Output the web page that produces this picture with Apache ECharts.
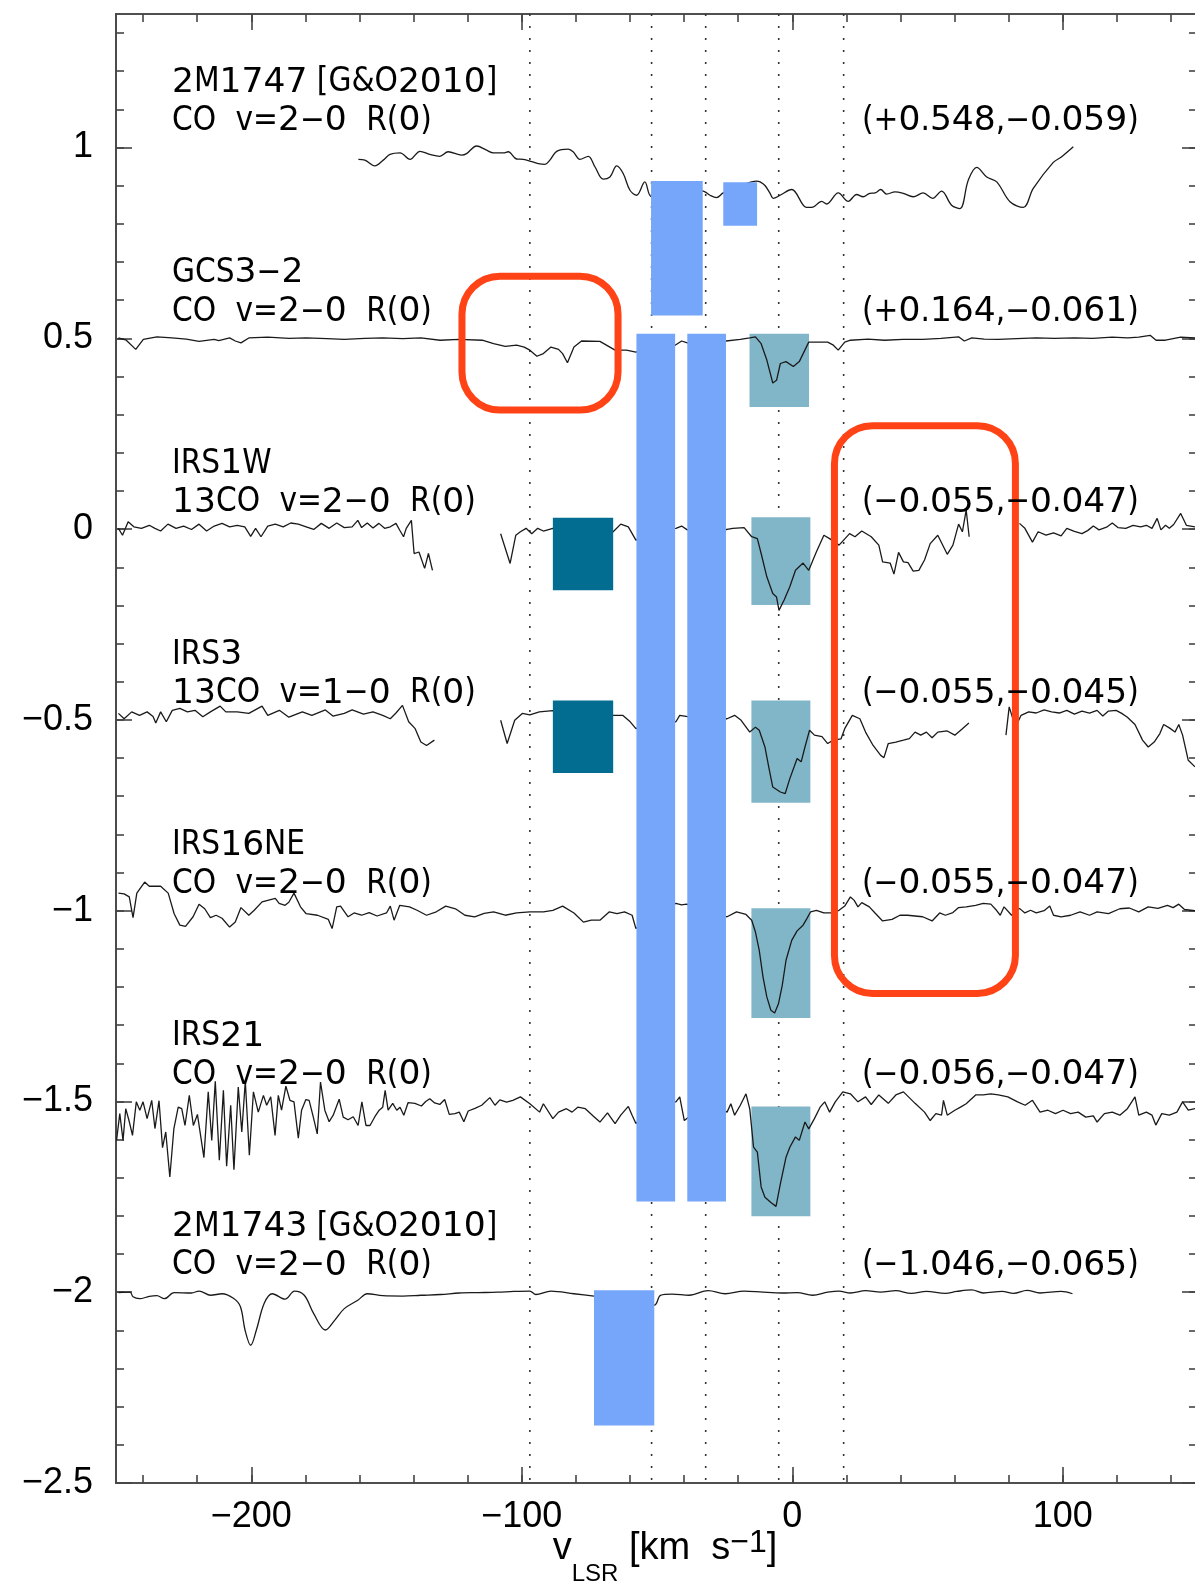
<!DOCTYPE html>
<html><head><meta charset="utf-8">
<script src="https://cdn.jsdelivr.net/npm/echarts@6/dist/echarts.min.js"></script>
<style>html,body{margin:0;padding:0;background:#fff}#c{width:1195px;height:1582px}</style>
</head><body><div id="c"></div>
<script>
// ---------------- DATA ----------------
const xMajorTicks = [-200, -100, 0, 100];
const yMajorTicks = [-2.5, -2, -1.5, -1, -0.5, 0, 0.5, 1];
const xRange = [-250, 150];
const yRange = [-2.5, 1.35];

const offsets = [1, 0.5, 0, -0.5, -1, -1.5, -2];
const sourceNames = ['2M1747 [G&O2010]', 'GCS3\u22122', 'IRS1W', 'IRS3', 'IRS16NE', 'IRS21', '2M1743 [G&O2010]'];
const lineNames = ['CO v=2\u22120 R(0)', 'CO v=2\u22120 R(0)', '13CO v=2\u22120 R(0)', '13CO v=1\u22120 R(0)', 'CO v=2\u22120 R(0)', 'CO v=2\u22120 R(0)', 'CO v=2\u22120 R(0)'];
const positions = ['(+0.548,\u22120.059)', '(+0.164,\u22120.061)', '(\u22120.055,\u22120.047)', '(\u22120.055,\u22120.045)', '(\u22120.055,\u22120.047)', '(\u22120.056,\u22120.047)', '(\u22121.046,\u22120.065)'];

// dotted velocity markers (km/s)
const velMarkers = [-97, -52, -32, -5, 19];

// shaded velocity ranges: [vmin, vmax, ytop, ybottom]
const blueRanges = [[-52.2,-33.1,0.912,0.560],[-25.5,-13.0,0.909,0.795],[-57.6,-43.3,0.512,-1.762],[-38.8,-24.5,0.512,-1.762],[-73.3,-51,-1.995,-2.349]];
const tealRanges = [[-15.8,6.2,0.512,0.320],[-15.1,6.7,0.031,-0.199],[-15.1,6.7,-0.449,-0.717],[-15.1,6.7,-0.994,-1.281],[-15.1,6.7,-1.513,-1.801]];
const darkRanges = [[-88.5,-66.2,0.030,-0.160],[-88.5,-66.2,-0.449,-0.639]];
const highlightBoxes = [[-122.1,-64.4,0.663,0.312],[15.6,82.5,0.271,-1.217]];

const spec2M1747 = [[-160.4,0.969],[-158,0.967],[-154.3,0.952],[-151.2,0.967],[-148.7,0.982],[-145,0.986],[-141.3,0.969],[-137.6,0.990],[-134,0.982],[-130.3,0.977],[-127.2,0.989],[-122.2,0.980],[-120.4,0.984],[-116.7,1.004],[-113,0.993],[-110.5,0.986],[-106.8,0.986],[-105,0.989],[-101.9,0.970],[-99.4,0.969],[-96.3,0.963],[-93.9,0.958],[-91.4,0.956],[-89.6,0.967],[-87.1,0.990],[-82.8,0.996],[-81,0.989],[-78.5,0.969],[-75.4,0.977],[-72.9,0.949],[-69.9,0.917],[-67.4,0.923],[-64.9,0.952],[-62.5,0.932],[-60,0.888],[-57.5,0.875],[-54.5,0.910],[-52,0.871],[-45,0.88],[-38,0.89],[-32.9,0.886],[-30.4,0.875],[-28,0.869],[-25.5,0.881],[-19,0.90],[-13.2,0.912],[-11.9,0.910],[-10,0.900],[-8.2,0.880],[-7,0.867],[-4.5,0.875],[-0.2,0.890],[5.3,0.843],[7.2,0.843],[10.9,0.859],[12.7,0.852],[17,0.881],[20.7,0.859],[23.8,0.877],[26.2,0.871],[28.7,0.880],[30.6,0.881],[32.7,0.890],[34.9,0.878],[38,0.884],[41,0.880],[44.7,0.871],[48.4,0.881],[51.9,0.867],[55.2,0.886],[58.9,0.849],[62,0.840],[65.1,0.915],[68.2,0.948],[71.9,0.923],[75.6,0.910],[80.5,0.858],[85.4,0.843],[89.1,0.893],[96.5,0.961],[99.6,0.976],[103.9,1.002]];

const specGCS3 = [[-249.1,0.501],[-246.2,0.495],[-242.7,0.471],[-239.9,0.497],[-234.9,0.504],[-229.3,0.501],[-224,0.498],[-219.3,0.492],[-213.7,0.497],[-212,0.494],[-208,0.501],[-205.9,0.493],[-203.8,0.488],[-200.9,0.501],[-193.9,0.503],[-186,0.500],[-179.7,0.501],[-172,0.499],[-165.6,0.497],[-158,0.500],[-151.4,0.501],[-144,0.499],[-137.3,0.501],[-130.2,0.495],[-123.2,0.497],[-114.6,0.495],[-110.4,0.486],[-106.1,0.479],[-101.9,0.482],[-99.1,0.477],[-97,0.469],[-94.4,0.453],[-92,0.460],[-89.2,0.477],[-86.4,0.471],[-84.9,0.460],[-83.1,0.436],[-80.7,0.477],[-77.9,0.493],[-71.1,0.492],[-65.5,0.469],[-61.3,0.469],[-57.8,0.464],[-50,0.48],[-43.3,0.482],[-40.9,0.493],[-38.8,0.488],[-31,0.49],[-24.5,0.493],[-19.2,0.497],[-15.7,0.501],[-13.6,0.504],[-11.5,0.486],[-9.4,0.443],[-7.2,0.383],[-5.8,0.390],[-4.4,0.434],[-2.3,0.439],[0.4,0.426],[2.6,0.439],[6.1,0.490],[10.3,0.490],[13.1,0.490],[15.2,0.482],[17,0.469],[19.4,0.490],[21.5,0.495],[28,0.498],[34.1,0.495],[41,0.497],[48.2,0.497],[55,0.500],[61.5,0.504],[63.6,0.493],[66.4,0.501],[71,0.498],[76.2,0.497],[83,0.499],[90.2,0.501],[97,0.500],[104.3,0.501],[111,0.500],[118.3,0.503],[124,0.501],[128.1,0.503],[132.3,0.508],[134.5,0.495],[138,0.495],[143.6,0.503],[148.9,0.501]];

const specIRS1W = [[-249.1,0.002],[-247.6,-0.016],[-245.5,0.019],[-243.4,0.006],[-240.6,0.002],[-237.7,0.010],[-235.6,0.002],[-233.5,-0.005],[-230.8,0.013],[-227.8,0.002],[-225,0.008],[-222.1,-0.001],[-219.3,0.013],[-216.5,-0.005],[-213.7,0.008],[-210.8,0.015],[-208,0.006],[-205.2,0.010],[-202.4,0.006],[-200.2,-0.019],[-198.4,0.002],[-196.4,-0.020],[-193.9,0.008],[-191.1,0.013],[-188.2,0.006],[-185.4,0.016],[-182.6,0.013],[-179.7,0.006],[-176.9,-0.001],[-174.1,0.015],[-171.2,0.002],[-168.4,0.016],[-165.6,0.004],[-162.7,0.006],[-160.6,0.023],[-159.2,0.004],[-157.1,0.016],[-155,0.003],[-152.8,0.015],[-150.7,0.002],[-148.6,0.006],[-146.5,0.015],[-145.1,-0.003],[-143.7,-0.020],[-142.7,0.002],[-140.8,0.023],[-139.8,-0.064],[-138,-0.060],[-137.3,-0.064],[-135.9,-0.103],[-134.5,-0.064],[-133,-0.108],[-120,null],[-107.8,-0.012],[-104.3,-0.090],[-102.2,-0.016],[-100.5,-0.007],[-98.4,0.002],[-96.3,-0.012],[-94.1,0.002],[-92,-0.005],[-88.5,0.002],[-77,0.0],[-66.2,-0.007],[-63.4,0.013],[-60.6,0.006],[-57.8,-0.029],[-50,0.0],[-43,0.002],[-40.9,0.008],[-38.8,-0.002],[-31,0.0],[-24.1,-0.001],[-22,0.002],[-17.8,0.004],[-15,-0.020],[-12.9,-0.025],[-11.5,-0.064],[-9.4,-0.125],[-7.2,-0.169],[-5.8,-0.178],[-4.9,-0.213],[-3,-0.186],[-0.9,-0.151],[1.2,-0.108],[4,-0.089],[6.1,-0.108],[8.9,-0.060],[11.7,-0.016],[13.8,-0.025],[17.3,-0.042],[21.2,-0.012],[23.2,-0.020],[25.7,-0.005],[29.2,-0.020],[32,-0.042],[33.4,-0.086],[36.2,-0.089],[37.6,-0.118],[39.3,-0.061],[41.1,-0.086],[42.8,-0.088],[44.7,-0.110],[46.8,-0.108],[48.9,-0.081],[51,-0.038],[53.8,-0.016],[57.3,-0.066],[59.4,-0.042],[61.5,0.013],[62.9,-0.007],[64.3,0.050],[65.4,-0.020],[75,null],[84,0.015],[86,0.002],[88.8,-0.034],[90.9,-0.007],[93.8,-0.016],[96.6,-0.010],[99.4,-0.018],[101.5,0.002],[104.3,-0.006],[107.1,-0.012],[109.2,-0.004],[111.3,0.008],[113.4,-0.002],[116.2,0.005],[118.3,0.016],[120.4,0.004],[123.3,0.002],[126,0.010],[128.8,0.006],[130.9,0.010],[133,0.002],[134.9,0.028],[136.3,-0.002],[138,0.010],[139.4,0.002],[141,0.012],[143.6,0.041],[145.7,0.010],[148.9,0.006]];

const specIRS3 = [[-249.1,-0.483],[-247,-0.497],[-244.2,-0.479],[-241.3,-0.488],[-238.5,-0.479],[-236.3,-0.491],[-235.3,-0.508],[-233.5,-0.479],[-231.4,-0.505],[-229.2,-0.475],[-226.4,-0.470],[-223.6,-0.479],[-220.8,-0.475],[-217.9,-0.492],[-215.1,-0.479],[-211.5,-0.464],[-209.4,-0.479],[-205.2,-0.479],[-200.9,-0.483],[-196,-0.464],[-193.9,-0.488],[-189.6,-0.475],[-186.1,-0.493],[-181.1,-0.479],[-177.6,-0.488],[-172.6,-0.474],[-169.8,-0.490],[-165.6,-0.483],[-162.7,-0.474],[-158.5,-0.485],[-155,-0.479],[-151.4,-0.488],[-148.6,-0.497],[-146.5,-0.482],[-144.1,-0.462],[-141.8,-0.505],[-139.4,-0.523],[-137.3,-0.558],[-135.2,-0.567],[-132.3,-0.553],[-120,null],[-107.8,-0.501],[-105.4,-0.562],[-102.6,-0.501],[-99.8,-0.483],[-97,-0.487],[-93.5,-0.479],[-88.5,-0.476],[-77,-0.49],[-66.2,-0.488],[-62.7,-0.488],[-59.9,-0.505],[-57.8,-0.523],[-50,-0.5],[-43,-0.505],[-41.6,-0.488],[-31,-0.5],[-24.1,-0.497],[-21.3,-0.488],[-18.9,-0.501],[-15.7,-0.532],[-13.6,-0.519],[-12.2,-0.527],[-10.1,-0.571],[-8.7,-0.623],[-7.2,-0.676],[-4.4,-0.689],[-2.6,-0.693],[-0.9,-0.654],[0.7,-0.623],[1.8,-0.601],[3.3,-0.610],[4.7,-0.571],[6.4,-0.527],[8.2,-0.540],[11,-0.544],[13.1,-0.562],[15.2,-0.553],[18,-0.550],[19.4,-0.523],[22.2,-0.488],[25,-0.497],[27.1,-0.532],[29.9,-0.567],[32.7,-0.593],[33.9,-0.599],[35.5,-0.562],[38.3,-0.558],[41.1,-0.553],[43.3,-0.549],[45.4,-0.532],[47.5,-0.540],[49.6,-0.532],[51.7,-0.547],[53.8,-0.532],[57.3,-0.529],[60.1,-0.540],[62.9,-0.523],[65.3,-0.508],[72,null],[79,-0.540],[80.2,-0.466],[82.5,-0.519],[84.6,-0.488],[87.4,-0.479],[90.2,-0.482],[93.1,-0.474],[95.9,-0.479],[98.7,-0.482],[101.5,-0.475],[104.3,-0.485],[107.1,-0.477],[109.9,-0.482],[112.7,-0.475],[114.8,-0.490],[116.9,-0.477],[119.7,-0.475],[121.8,-0.483],[123.9,-0.493],[126.7,-0.512],[129.5,-0.553],[131.6,-0.571],[133.8,-0.558],[135.9,-0.536],[137.3,-0.512],[139.4,-0.521],[141.5,-0.532],[142.9,-0.512],[144.3,-0.540],[146.4,-0.606],[148.9,-0.623]];

const specIRS16NE = [[-249.1,-0.954],[-247,-0.956],[-245.1,-0.964],[-243.7,-1.018],[-242.3,-0.954],[-239.4,-0.925],[-237.7,-0.936],[-233.5,-0.936],[-230.7,-0.954],[-228.5,-1.008],[-226.4,-1.038],[-224.3,-1.041],[-221.5,-1.016],[-219.3,-0.983],[-217.2,-0.995],[-215.1,-1.018],[-213,-1.012],[-210.8,-1.020],[-208,-1.043],[-205.9,-1.030],[-203.8,-0.992],[-200.9,-1.012],[-198.9,-0.999],[-196,-0.977],[-193.9,-0.973],[-191.1,-0.968],[-189.7,-0.981],[-187.5,-0.986],[-186.1,-0.978],[-184.2,-0.954],[-181.8,-0.990],[-179.7,-1.008],[-175.5,-1.012],[-171.5,-1.023],[-170.1,-1.047],[-168.4,-0.990],[-167,-0.988],[-164.2,-1.016],[-162,-1.006],[-159.2,-1.012],[-156.4,-1.005],[-153.5,-1.014],[-150,-1.006],[-148.6,-0.988],[-147.2,-1.025],[-145.1,-0.986],[-141.5,-0.990],[-138.7,-0.999],[-135.2,-1.012],[-131.6,-1.003],[-128.1,-0.988],[-124.5,-0.995],[-121,-1.012],[-117.4,-1.016],[-113.9,-1.007],[-110.4,-1.003],[-106.1,-1.012],[-101.9,-1.006],[-97,-1.003],[-92,-1.003],[-88.5,-0.999],[-84.9,-0.988],[-80.7,-1.006],[-77.2,-1.030],[-74.3,-1.025],[-71.1,-1.025],[-67.6,-1.003],[-64.8,-1.008],[-62,-1.003],[-59.2,-1.012],[-57.8,-1.047],[-50,-1.0],[-43,-0.981],[-40.9,-0.985],[-39.1,-0.983],[-31,-1.0],[-24.1,-1.016],[-20.6,-1.003],[-17.1,-1.010],[-15,-1.025],[-13.6,-1.056],[-12.2,-1.104],[-10.8,-1.174],[-9.4,-1.226],[-7.9,-1.261],[-6.5,-1.268],[-5.1,-1.244],[-3.7,-1.196],[-2.3,-1.130],[-0.2,-1.078],[1.8,-1.053],[4,-1.038],[5.4,-1.021],[6.8,-1.003],[8.9,-0.999],[11.7,-1.006],[14.5,-1.006],[17.3,-0.999],[19.4,-0.988],[21.5,-0.964],[22.9,-0.973],[24.3,-0.990],[25.7,-0.979],[28.5,-0.990],[30.6,-1.006],[33.4,-1.027],[36.9,-1.023],[39.8,-1.012],[42.6,-1.012],[45.4,-1.014],[48.2,-1.016],[51.7,-1.027],[54.5,-1.006],[56.6,-1.012],[59.4,-1.005],[61.5,-0.992],[64.3,-0.990],[67.8,-0.986],[70.6,-0.981],[73.4,-0.983],[75.5,-0.999],[76.9,-1.012],[78.3,-0.990],[81.1,-1.012],[84,-0.994],[86,-1.006],[88.1,-0.999],[90.2,-1.006],[93.1,-1.0],[95.2,-0.988],[96.6,-1.012],[99.4,-1.016],[102.9,-1.012],[106.4,-1.003],[109.9,-1.012],[112.7,-1.003],[116.9,-1.008],[121.1,-0.995],[124.6,-0.993],[128.1,-1.003],[131.6,-0.990],[135.2,-0.994],[138.7,-0.986],[140.8,-0.992],[142.9,-0.983],[145,-0.997],[148.9,-1.0]];

const specIRS21 = [[-249.8,-1.602],[-248.6,-1.532],[-247.4,-1.602],[-246.4,-1.519],[-245.2,-1.550],[-243.9,-1.589],[-242.5,-1.501],[-241.2,-1.523],[-240,-1.501],[-238.5,-1.545],[-236.8,-1.497],[-235.6,-1.571],[-234.1,-1.498],[-232.8,-1.621],[-231.6,-1.580],[-230.1,-1.698],[-228.6,-1.571],[-227,-1.515],[-225.7,-1.519],[-224.5,-1.563],[-222.9,-1.484],[-221.4,-1.563],[-219.9,-1.534],[-217.5,-1.647],[-215.9,-1.475],[-214.6,-1.602],[-213.3,-1.447],[-211.8,-1.654],[-210.3,-1.471],[-209.1,-1.670],[-207.6,-1.510],[-206.4,-1.679],[-204.8,-1.462],[-203.5,-1.580],[-202.2,-1.447],[-200.7,-1.641],[-199.2,-1.475],[-197.4,-1.528],[-195.5,-1.484],[-194.3,-1.510],[-192.8,-1.488],[-191.2,-1.589],[-190,-1.484],[-188.8,-1.523],[-187.2,-1.460],[-185.7,-1.497],[-184.2,-1.501],[-182.6,-1.596],[-181.4,-1.523],[-179.8,-1.495],[-178.6,-1.497],[-177.1,-1.540],[-175.6,-1.585],[-174.4,-1.449],[-172.8,-1.523],[-171.2,-1.553],[-169.7,-1.536],[-167.5,-1.494],[-166,-1.541],[-164.2,-1.548],[-162.3,-1.540],[-160.5,-1.563],[-159.1,-1.501],[-157.6,-1.563],[-156.1,-1.563],[-154.3,-1.540],[-152.7,-1.523],[-151.4,-1.515],[-150.5,-1.471],[-149.4,-1.523],[-147.7,-1.505],[-146.2,-1.523],[-145,-1.515],[-143.6,-1.536],[-142,-1.503],[-139.5,-1.505],[-137.1,-1.512],[-135.5,-1.500],[-134,-1.493],[-132.2,-1.504],[-130.3,-1.508],[-128.5,-1.495],[-126.8,-1.534],[-124.7,-1.532],[-123.1,-1.528],[-121.4,-1.553],[-119.8,-1.525],[-117.3,-1.518],[-114.8,-1.510],[-111.8,-1.490],[-109.9,-1.510],[-108.1,-1.496],[-105.6,-1.502],[-103.3,-1.497],[-100.5,-1.488],[-97,-1.506],[-93.4,-1.528],[-92,-1.506],[-88.5,-1.545],[-86.4,-1.528],[-83.5,-1.519],[-81.4,-1.528],[-79.3,-1.515],[-76.5,-1.519],[-73.6,-1.538],[-71.1,-1.554],[-68.3,-1.530],[-65.5,-1.558],[-63.4,-1.536],[-60.6,-1.513],[-59.2,-1.536],[-57.8,-1.558],[-50,-1.5],[-43,-1.501],[-41.6,-1.488],[-39.9,-1.550],[-31,-1.5],[-24.1,-1.528],[-22.7,-1.506],[-21.3,-1.536],[-19.2,-1.510],[-17.1,-1.480],[-15.7,-1.520],[-14.3,-1.620],[-12.9,-1.633],[-11.5,-1.724],[-10.1,-1.751],[-7.9,-1.765],[-6,-1.775],[-4.4,-1.716],[-2.3,-1.646],[-0.9,-1.620],[1.2,-1.593],[2.6,-1.602],[4.7,-1.554],[6.1,-1.572],[8.2,-1.545],[10.3,-1.515],[12,-1.501],[13.8,-1.528],[15.9,-1.501],[18.7,-1.475],[21.5,-1.480],[24.3,-1.501],[27.1,-1.488],[29.2,-1.508],[32,-1.483],[35.5,-1.505],[38.3,-1.483],[41.1,-1.475],[45.4,-1.505],[48.9,-1.528],[51,-1.550],[53.1,-1.532],[55.2,-1.536],[55.9,-1.497],[57.3,-1.536],[60.1,-1.523],[62.2,-1.515],[64.3,-1.506],[67.8,-1.483],[70.6,-1.483],[73.4,-1.480],[76.2,-1.483],[79.7,-1.488],[83.3,-1.501],[86.1,-1.510],[88.8,-1.497],[91.6,-1.528],[94.5,-1.523],[97.3,-1.532],[100.1,-1.523],[102.9,-1.532],[105.7,-1.528],[108.5,-1.541],[111.3,-1.538],[112.7,-1.554],[115.4,-1.532],[118.3,-1.528],[121.1,-1.536],[123.9,-1.519],[126.7,-1.488],[128.1,-1.536],[130.9,-1.528],[133,-1.536],[134.4,-1.562],[136.6,-1.532],[139.4,-1.536],[142.2,-1.528],[144.3,-1.501],[146.4,-1.523],[148.9,-1.519]];

const spec2M1743 = [[-249,-2.001],[-244.8,-2.0],[-243.7,-2.012],[-241.3,-2.017],[-237.7,-2.011],[-234.9,-2.009],[-232.1,-2.017],[-228.5,-2.001],[-222.1,-2.002],[-219.3,-1.997],[-215,-2.008],[-210.8,-2.004],[-206.6,-2.016],[-204,-2.038],[-202.3,-2.099],[-200.2,-2.139],[-198.1,-2.099],[-195.2,-2.029],[-192.2,-2.004],[-187.5,-2.018],[-184,-1.997],[-180.4,-2.008],[-176.9,-2.056],[-172.6,-2.099],[-169.1,-2.073],[-165.6,-2.043],[-160.6,-2.021],[-157.1,-2.004],[-151.4,-2.009],[-144,-2.010],[-137.3,-2.008],[-130,-2.006],[-123.1,-2.002],[-116,-2.001],[-109,-2.0],[-103,-1.998],[-97,-1.997],[-94.8,-2.006],[-89.2,-1.997],[-80.7,-2.004],[-73.3,-2.010],[-62,-2.02],[-51,-2.034],[-48.7,-2.008],[-44.4,-2.005],[-38.1,-2.008],[-31.1,-1.996],[-24.8,-2.004],[-17.8,-1.997],[-10.8,-2.0],[-3.7,-2.002],[1.8,-2.001],[7.5,-2.008],[13.1,-2.0],[17.3,-1.997],[21.5,-2.002],[27.1,-1.996],[32.7,-2.0],[38.3,-1.996],[44,-2.003],[49.6,-1.998],[56.6,-2.003],[60.8,-1.998],[66.4,-1.994],[70.6,-2.002],[77.6,-1.998],[81.8,-2.003],[86.8,-1.995],[91.6,-2.002],[99.4,-1.998],[103.6,-2.004]];

const spectra = [spec2M1747, specGCS3, specIRS1W, specIRS3, specIRS16NE, specIRS21, spec2M1743];
const smoothFlags = [true, false, false, false, false, false, true];

// ---------------- STYLE / BUILD ----------------
const FONT = '"Liberation Sans", Arial, Helvetica, sans-serif';
const ANNO_FONT = '"DejaVu Sans Condensed", "DejaVu Sans", sans-serif';
const DIGIT_FONT = '"DejaVu Sans", sans-serif';
const AXIS_COLOR = '#444';
const fmtNum = v => (v < 0 ? '\u2212' + String(Math.abs(v)) : String(v));

const xMinor = []; for (let k = -12; k <= 7; k++) xMinor.push(k * 20);
const yMinor = []; for (let k = -24; k <= 13; k++) yMinor.push(k / 10);

function xAx(pos, ticks, len, labels) {
  return {
    type: 'value', position: pos, min: xRange[0], max: xRange[1],
    axisLine: { show: true, onZero: false, lineStyle: { color: AXIS_COLOR, width: 1.6 } },
    axisTick: { show: true, inside: true, length: len, customValues: ticks, lineStyle: { color: AXIS_COLOR, width: 1.6 } },
    axisLabel: labels ? { show: true, customValues: ticks, formatter: fmtNum, fontSize: 36, fontFamily: FONT, color: '#000', margin: 16 } : { show: false },
    splitLine: { show: false }, minorTick: { show: false }
  };
}
function yAx(pos, ticks, len, labels) {
  return {
    type: 'value', position: pos, min: yRange[0], max: yRange[1],
    axisLine: { show: true, onZero: false, lineStyle: { color: AXIS_COLOR, width: 1.6 } },
    axisTick: { show: true, inside: true, length: len, customValues: ticks, lineStyle: { color: AXIS_COLOR, width: 1.6 } },
    axisLabel: labels ? { show: true, customValues: ticks, formatter: fmtNum, fontSize: 36, fontFamily: FONT, color: '#000', margin: 23 } : { show: false },
    splitLine: { show: false }, minorTick: { show: false }
  };
}

const xAxes = [xAx('bottom', xMajorTicks, 16, true), xAx('bottom', xMinor, 8, false), xAx('top', xMajorTicks, 16, false), xAx('top', xMinor, 8, false)];
xAxes[0].name = '{m|v}{sub|LSR}{m| [km  s}{sup|\u22121}{m|]}';
xAxes[0].nameLocation = 'middle';
xAxes[0].nameGap = 39;
xAxes[0].nameMoveOverlap = false;
xAxes[0].nameTextStyle = {
  fontFamily: FONT, color: '#000', padding: [0, 0, 0, 16],
  rich: {
    m: { fontSize: 38, lineHeight: 38, fontFamily: FONT, color: '#000', verticalAlign: 'top', padding: [8, 0, 0, 0] },
    sub: { fontSize: 24, lineHeight: 24, fontFamily: FONT, color: '#000', verticalAlign: 'top', padding: [40, 0, 0, 0] },
    sup: { fontSize: 32, lineHeight: 32, fontFamily: FONT, color: '#000', verticalAlign: 'top', padding: [5, 0, 0, 0] }
  }
};
const yAxes = [yAx('left', yMajorTicks, 16, true), yAx('left', yMinor, 8, false), yAx('right', yMajorTicks, 16, false), yAx('right', yMinor, 9, false)];

function rectSeries(ranges, color, z) {
  return {
    type: 'custom', coordinateSystem: 'cartesian2d', xAxisIndex: 0, yAxisIndex: 0, z: z, silent: true,
    data: ranges,
    renderItem: (params, api) => {
      const p1 = api.coord([api.value(0), api.value(2)]);
      const p2 = api.coord([api.value(1), api.value(3)]);
      return { type: 'rect', shape: { x: Math.min(p1[0], p2[0]), y: Math.min(p1[1], p2[1]), width: Math.abs(p2[0] - p1[0]), height: Math.abs(p2[1] - p1[1]) }, style: { fill: color } };
    }
  };
}

const series = [];
// dotted velocity markers
series.push({
  type: 'custom', coordinateSystem: 'cartesian2d', xAxisIndex: 0, yAxisIndex: 0, z: 1, silent: true,
  data: velMarkers.map(v => [v, 0]),
  renderItem: (params, api) => {
    const a = api.coord([api.value(0), yRange[1]]);
    const b = api.coord([api.value(0), yRange[0]]);
    return { type: 'line', shape: { x1: a[0], y1: a[1], x2: b[0], y2: b[1] }, style: { stroke: '#333', lineWidth: 1.6, lineDash: [2, 10] } };
  }
});
series.push(rectSeries(tealRanges, '#81B6C8', 2));
spectra.forEach((d, i) => {
  series.push({
    type: 'line', data: d, xAxisIndex: 0, yAxisIndex: 0, z: 3, silent: true,
    showSymbol: false, symbol: 'none', connectNulls: false, smooth: smoothFlags[i] ? 0.35 : false,
    lineStyle: { color: '#1a1a1a', width: 1.3 }
  });
});
series.push(rectSeries(blueRanges, '#75A6FA', 4));
series.push(rectSeries(darkRanges, '#026D90', 4));
// highlight boxes
series.push({
  type: 'custom', coordinateSystem: 'cartesian2d', xAxisIndex: 0, yAxisIndex: 0, z: 5, silent: true,
  data: highlightBoxes,
  renderItem: (params, api) => {
    const p1 = api.coord([api.value(0), api.value(2)]);
    const p2 = api.coord([api.value(1), api.value(3)]);
    return { type: 'rect', shape: { x: Math.min(p1[0], p2[0]), y: Math.min(p1[1], p2[1]), width: Math.abs(p2[0] - p1[0]), height: Math.abs(p2[1] - p1[1]), r: 38 }, style: { fill: 'none', stroke: '#FF4316', lineWidth: 7 } };
  }
});
// annotation texts (positioned in data coordinates relative to each spectrum offset)
const textItems = [];
offsets.forEach((o, i) => {
  textItems.push({ x: -229.3, y: o + 0.170, t: sourceNames[i], wide: false });
  textItems.push({ x: -229.3, y: o + 0.069, t: lineNames[i], wide: true });
  textItems.push({ x: 25.8, y: o + 0.069, t: positions[i], wide: false });
});
const toRich = (s, wide) => {
  let r = s.replace(/(\d+)/g, '{d|$1}');
  if (wide) r = r.replace(/ /g, '{s| }');
  return r;
};
series.push({
  type: 'custom', coordinateSystem: 'cartesian2d', xAxisIndex: 0, yAxisIndex: 0, z: 6, silent: true,
  data: textItems.map(t => [t.x, t.y]),
  renderItem: (params, api) => {
    const p = api.coord([api.value(0), api.value(1)]);
    const it = textItems[params.dataIndex];
    return {
      type: 'text', x: p[0], y: p[1],
      style: {
        x: 0, y: 0, text: toRich(it.t, it.wide), fill: '#000', fontSize: 33, fontFamily: ANNO_FONT,
        textAlign: 'left', textVerticalAlign: 'middle', align: 'left', verticalAlign: 'middle',
        rich: {
          d: { fontSize: 34.5, fontFamily: DIGIT_FONT, fill: '#000' },
          s: { fontSize: 33, fontFamily: ANNO_FONT, padding: [0, 5, 0, 5] }
        }
      }
    };
  }
});

const chart = echarts.init(document.getElementById('c'), null, { renderer: 'canvas' });
chart.setOption({
  animation: false,
  backgroundColor: '#fff',
  grid: { left: 116, right: -3, top: 14, bottom: 99, containLabel: false, outerBoundsMode: 'none' },
  xAxis: xAxes,
  yAxis: yAxes,
  series: series
});
</script></body></html>
